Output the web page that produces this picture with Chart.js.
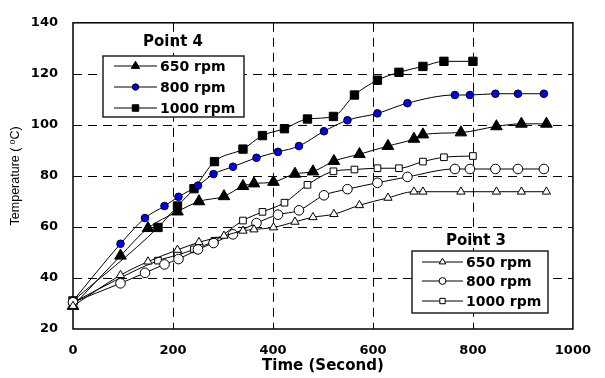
<!DOCTYPE html>
<html>
<head>
<meta charset="utf-8">
<script src="https://cdn.jsdelivr.net/npm/chart.js@4"></script>
<style>
  body { margin: 0; background: #fff; }
  #wrap { width: 605px; height: 378px; }
</style>
</head>
<body>
<div id="wrap"><canvas id="temps"></canvas></div>
<script>
// time axis (seconds) for each speed
const time650 = [0, 95, 150, 209, 252, 302, 340, 362, 401, 444, 480, 522, 573, 630, 682, 700, 776, 847, 897, 947];
const time800 = [0, 95, 144, 183, 211, 250, 281, 320, 367, 410, 452, 502, 549, 609, 669, 764, 794, 845, 890, 942];
const time1000 = [0, 170, 209, 242, 283, 340, 379, 423, 469, 521, 563, 609, 652, 700, 742, 800];

// Point 4 temperatures
const p4rpm650 = [29, 48.7, 59.5, 66, 70, 72, 76, 77, 77.6, 80.8, 81.7, 85.8, 88.5, 91.7, 94.5, 96.2, 97, 99.4, 100.4, 100.4];
const p4rpm800 = [31, 53.4, 63.5, 68.2, 71.8, 76.2, 80.7, 83.6, 87.1, 89.4, 91.7, 97.5, 101.8, 104.5, 108.5, 111.7, 111.7, 112.2, 112.2, 112.2];
const p4rpm1000 = [31, 59.8, 68.2, 75, 85.6, 90.5, 95.8, 98.5, 102.3, 103.3, 111.7, 117.5, 120.6, 122.9, 124.9, 124.9];

// Point 3 temperatures
const p3rpm650 = [29, 41.1, 46.4, 51, 54, 56.5, 58.5, 59, 59.8, 62, 63.8, 65, 68.5, 71.4, 73.8, 73.8, 73.8, 73.8, 73.8, 73.8];
const p3rpm800 = [30.5, 37.9, 42, 45.3, 47.4, 51.2, 53.7, 57.1, 61.5, 64.8, 66.5, 72.4, 74.8, 77.3, 79.6, 82.7, 82.7, 82.7, 82.7, 82.7];
const p3rpm1000 = [30.5, 46.8, 49, 51.2, 54.6, 62.5, 65.9, 69.5, 76.5, 81.8, 82.5, 83, 83, 85.6, 87.3, 87.8];

const xTicks = [0, 200, 400, 600, 800, 1000];
const yTicks = [20, 40, 60, 80, 100, 120, 140];

const pts = (xs, ys) => xs.map((x, i) => ({ x: x, y: ys[i] }));

function series(label, group, xs, ys, style, fill, radius) {
  return {
    label: label,
    group: group,
    data: pts(xs, ys),
    borderColor: "#000",
    borderWidth: 1,
    pointStyle: style,
    pointRadius: radius,
    pointHoverRadius: radius,
    pointBackgroundColor: fill,
    pointBorderColor: "#000",
    pointBorderWidth: 1,
    cubicInterpolationMode: "monotone",
    clip: false
  };
}

const datasets = [
  series("650 rpm", "Point 3", time650, p3rpm650, "triangle", "#fff", 4.8),
  series("800 rpm", "Point 3", time800, p3rpm800, "circle", "#fff", 4.8),
  series("1000 rpm", "Point 3", time1000, p3rpm1000, "rect", "#fff", 4.7),
  series("650 rpm", "Point 4", time650, p4rpm650, "triangle", "#000", 6.7),
  series("800 rpm", "Point 4", time800, p4rpm800, "circle", "#0000ff", 3.8),
  series("1000 rpm", "Point 4", time1000, p4rpm1000, "rect", "#000", 5.9)
];

// dashed inner grid plus a solid frame round the plot area
const frame = {
  id: "frame",
  beforeDatasetsDraw(chart) {
    const { ctx, chartArea: a, scales } = chart;
    ctx.save();
    ctx.strokeStyle = "#000";
    ctx.lineWidth = 1;
    ctx.setLineDash([9, 6]);
    xTicks.slice(1, -1).forEach(v => {
      const px = Math.round(scales.x.getPixelForValue(v)) + 0.5;
      ctx.beginPath();
      ctx.moveTo(px, a.top);
      ctx.lineTo(px, a.bottom);
      ctx.stroke();
    });
    yTicks.slice(1, -1).forEach(v => {
      const py = Math.round(scales.y.getPixelForValue(v)) + 0.5;
      ctx.beginPath();
      ctx.moveTo(a.left, py);
      ctx.lineTo(a.right, py);
      ctx.stroke();
    });
    ctx.setLineDash([]);
    ctx.lineWidth = 1.5;
    ctx.strokeRect(a.left, a.top, a.right - a.left, a.bottom - a.top);
    ctx.restore();
  }
};

// the two boxed legends, one per measuring point
const boxLegends = {
  id: "boxLegends",
  afterDraw(chart) {
    const ctx = chart.ctx;
    const boxes = [
      { group: "Point 4", title: [173, 42], box: [103, 56, 141, 61], lineX: [114, 157], textX: 160, rows: [66, 87, 108], sizes: [4.8, 3.2, 4.6] },
      { group: "Point 3", title: [476, 241], box: [412, 251, 136, 62], lineX: [422, 463], textX: 466, rows: [262, 281, 301], sizes: [3.8, 3.4, 3.8] }
    ];
    boxes.forEach(b => {
      ctx.save();
      ctx.font = "bold 15px 'DejaVu Sans'";
      ctx.fillStyle = "#000";
      ctx.textAlign = "center";
      ctx.textBaseline = "middle";
      ctx.fillText(b.group, b.title[0], b.title[1]);

      ctx.fillStyle = "#fff";
      ctx.fillRect(b.box[0], b.box[1], b.box[2], b.box[3]);
      ctx.strokeStyle = "#222";
      ctx.lineWidth = 1.5;
      ctx.strokeRect(b.box[0], b.box[1], b.box[2], b.box[3]);

      const sets = chart.data.datasets.filter(d => d.group === b.group);
      sets.forEach((d, i) => {
        const y = b.rows[i];
        ctx.strokeStyle = "#000";
        ctx.lineWidth = 1;
        ctx.beginPath();
        ctx.moveTo(b.lineX[0], y);
        ctx.lineTo(b.lineX[1], y);
        ctx.stroke();
        ctx.fillStyle = d.pointBackgroundColor;
        ctx.strokeStyle = "#000";
        Chart.helpers.drawPoint(ctx, { pointStyle: d.pointStyle, radius: b.sizes[i], borderWidth: 1, rotation: 0 },
          (b.lineX[0] + b.lineX[1]) / 2, y);
        ctx.fillStyle = "#000";
        ctx.font = "bold 14px 'DejaVu Sans'";
        ctx.textAlign = "left";
        ctx.fillText(d.label, b.textX, y + 1);
      });
      ctx.restore();
    });
  }
};

new Chart(document.getElementById("temps"), {
  type: "line",
  data: { datasets: datasets },
  options: {
    responsive: true,
    maintainAspectRatio: false,
    animation: false,
    layout: { padding: { left: 0, right: 21, top: 12, bottom: 0 } },
    plugins: {
      legend: { display: false },
      tooltip: { enabled: false }
    },
    scales: {
      x: {
        type: "linear",
        min: 0,
        max: 1000,
        afterBuildTicks: scale => { scale.ticks = xTicks.map(v => ({ value: v })); },
        afterFit: scale => { scale.height = 49; },
        grid: { display: false, drawTicks: false },
        border: { display: false },
        ticks: {
          padding: 14,
          color: "#000",
          callback: v => String(v),
          font: { family: "'DejaVu Sans'", size: 13, weight: "bold" }
        },
        title: {
          display: true,
          text: "Time (Second)",
          color: "#000",
          padding: { top: 0, bottom: 3 },
          font: { family: "'DejaVu Sans'", size: 15, weight: "bold" }
        }
      },
      y: {
        min: 20,
        max: 140,
        afterBuildTicks: scale => { scale.ticks = yTicks.map(v => ({ value: v })); },
        afterFit: scale => { scale.width = 73; },
        grid: { display: false, drawTicks: false },
        border: { display: false },
        ticks: {
          padding: 15,
          color: "#000",
          callback: v => String(v),
          font: { family: "'DejaVu Sans'", size: 13, weight: "bold" }
        },
        title: {
          display: true,
          text: "Temperature ( ºC)",
          color: "#000",
          padding: { top: 8, bottom: 0 },
          font: { family: "'Liberation Sans'", size: 12.5 }
        }
      }
    }
  },
  plugins: [frame, boxLegends]
});
</script>
</body>
</html>
